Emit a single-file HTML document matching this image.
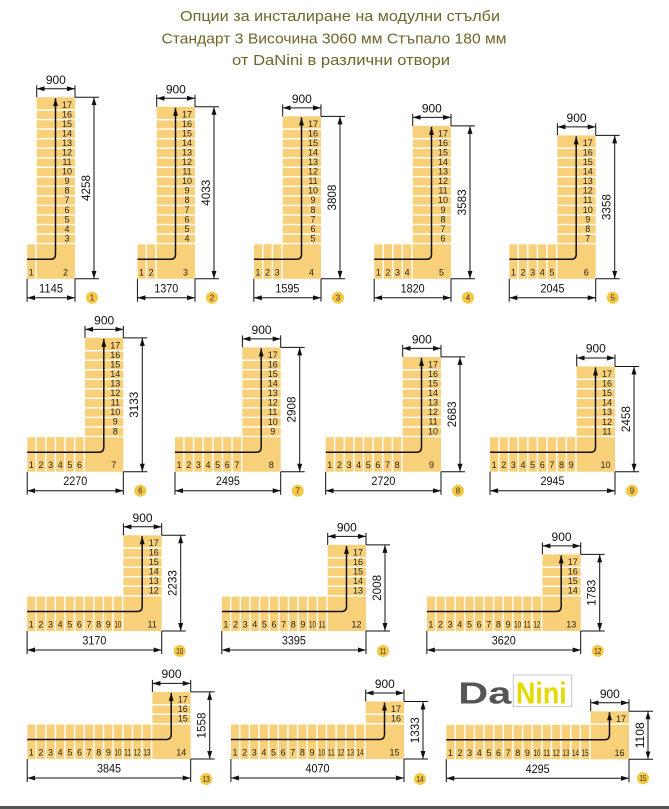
<!DOCTYPE html>
<html><head><meta charset="utf-8"><style>
html,body{margin:0;padding:0;background:#fff}
svg{display:block}
.n{font-family:"Liberation Sans Narrow","Liberation Sans",sans-serif;font-size:9px;fill:#2a2418;text-anchor:middle}
.d{font-family:"Liberation Sans Narrow","Liberation Sans",sans-serif;font-size:12px;fill:#111;text-anchor:middle}
.k{stroke:#111;stroke-width:1;fill:none}
.w{stroke:#111;stroke-width:1.5;fill:none}
.y{fill:#F8D07A}
.b{fill:#F5C744}
.bt{font-family:"Liberation Sans Narrow","Liberation Sans",sans-serif;font-size:8px;fill:#333;text-anchor:middle}
.ti{font-family:"Liberation Sans","Noto Sans CJK SC",sans-serif;font-size:15px;fill:#6c662a;text-anchor:middle}
</style></head><body>
<svg width="669" height="809" viewBox="0 0 669 809" xmlns="http://www.w3.org/2000/svg">
<defs>
<pattern id="ph" patternUnits="userSpaceOnUse" x="-38.3" y="0" width="9.63" height="100"><rect width="8.23" height="100" fill="#F8D07A"/></pattern>
<pattern id="pv" patternUnits="userSpaceOnUse" x="0" y="-34.5" width="100" height="9.54"><rect width="100" height="8.14" fill="#F8D07A"/></pattern>
<marker id="a" viewBox="0 0 8 5" refX="8" refY="2.5" markerWidth="8" markerHeight="5" markerUnits="userSpaceOnUse" orient="auto-start-reverse"><path d="M0,0 L8,2.5 L0,5 z" fill="#111"/></marker>
</defs>
<rect width="669" height="809" fill="#fff"/>
<text class="ti" x="340" y="21" textLength="320" lengthAdjust="spacingAndGlyphs">Опции за инсталиране на модулни стълби</text>
<text class="ti" x="334" y="43.5" textLength="345" lengthAdjust="spacingAndGlyphs">Стандарт 3 Височина 3060 мм Стъпало 180 мм</text>
<text class="ti" x="341" y="65" textLength="218" lengthAdjust="spacingAndGlyphs">от DaNini в различни отвори</text>

<!-- D1 -->
<g transform="translate(75,278.8)">
<rect x="-47.93" y="-34.5" width="9.63" height="34.5" fill="url(#ph)"/>
<rect class="y" x="-38.3" y="-34.5" width="38.3" height="34.5"/>
<rect x="-38.3" y="-168.06" width="38.3" height="133.56" fill="url(#pv)"/>
<rect class="y" x="-38.3" y="-181.56" width="38.3" height="12.1"/>
<path class="w" d="M-47.93 -19.5H-24.5Q-19.5 -19.5 -19.5 -24.5V-180.56" marker-end="url(#a)"/>
<g transform="translate(-47.93 0)"><text class="n" x="4.1" y="-3.5">1</text></g>
<text class="n" x="-9.5" y="-3.5">2</text>
<g transform="translate(0 -181.56)"><text class="n" x="-8" y="10.6">17</text><text class="n" x="-8" y="20.14">16</text><text class="n" x="-8" y="29.68">15</text><text class="n" x="-8" y="39.22">14</text><text class="n" x="-8" y="48.76">13</text><text class="n" x="-8" y="58.3">12</text><text class="n" x="-8" y="67.84">11</text><text class="n" x="-8" y="77.38">10</text><text class="n" x="-8" y="86.92">9</text><text class="n" x="-8" y="96.46">8</text><text class="n" x="-8" y="106">7</text><text class="n" x="-8" y="115.54">6</text><text class="n" x="-8" y="125.08">5</text><text class="n" x="-8" y="134.62">4</text><text class="n" x="-8" y="144.16">3</text></g>
<path class="k" d="M-38.3 -181.56V-193.56M0 -181.56V-193.56M0 -181.56H24M0 0H24M0 0V23M-47.93 0V23"/>
<line class="k" x1="-38.3" y1="-190.06" x2="0" y2="-190.06" marker-start="url(#a)" marker-end="url(#a)"/>
<line class="k" x1="19" y1="-181.56" x2="19" y2="0" marker-start="url(#a)" marker-end="url(#a)"/>
<line class="k" x1="-47.93" y1="19" x2="0" y2="19" marker-start="url(#a)" marker-end="url(#a)"/>
<text class="d" x="-19.15" y="-195.06" textLength="20" lengthAdjust="spacingAndGlyphs">900</text>
<text class="d" transform="translate(10.5 -90.78) rotate(-90)" y="4.3" textLength="26" lengthAdjust="spacingAndGlyphs">4258</text>
<text class="d" x="-23.97" y="13.5" textLength="24" lengthAdjust="spacingAndGlyphs">1145</text>
<circle class="b" cx="17" cy="19" r="6"/><text class="bt" x="17" y="21.9">1</text>
</g>

<!-- D2 -->
<g transform="translate(195,278.8)">
<rect x="-57.56" y="-34.5" width="19.26" height="34.5" fill="url(#ph)"/>
<rect class="y" x="-38.3" y="-34.5" width="38.3" height="34.5"/>
<rect x="-38.3" y="-158.52" width="38.3" height="124.02" fill="url(#pv)"/>
<rect class="y" x="-38.3" y="-172.02" width="38.3" height="12.1"/>
<path class="w" d="M-57.56 -19.5H-24.5Q-19.5 -19.5 -19.5 -24.5V-171.02" marker-end="url(#a)"/>
<g transform="translate(-57.56 0)"><text class="n" x="4.1" y="-3.5">1</text><text class="n" x="13.73" y="-3.5">2</text></g>
<text class="n" x="-9.5" y="-3.5">3</text>
<g transform="translate(0 -172.02)"><text class="n" x="-8" y="10.6">17</text><text class="n" x="-8" y="20.14">16</text><text class="n" x="-8" y="29.68">15</text><text class="n" x="-8" y="39.22">14</text><text class="n" x="-8" y="48.76">13</text><text class="n" x="-8" y="58.3">12</text><text class="n" x="-8" y="67.84">11</text><text class="n" x="-8" y="77.38">10</text><text class="n" x="-8" y="86.92">9</text><text class="n" x="-8" y="96.46">8</text><text class="n" x="-8" y="106">7</text><text class="n" x="-8" y="115.54">6</text><text class="n" x="-8" y="125.08">5</text><text class="n" x="-8" y="134.62">4</text></g>
<path class="k" d="M-38.3 -172.02V-184.02M0 -172.02V-184.02M0 -172.02H24M0 0H24M0 0V23M-57.56 0V23"/>
<line class="k" x1="-38.3" y1="-180.52" x2="0" y2="-180.52" marker-start="url(#a)" marker-end="url(#a)"/>
<line class="k" x1="19" y1="-172.02" x2="19" y2="0" marker-start="url(#a)" marker-end="url(#a)"/>
<line class="k" x1="-57.56" y1="19" x2="0" y2="19" marker-start="url(#a)" marker-end="url(#a)"/>
<text class="d" x="-19.15" y="-185.52" textLength="20" lengthAdjust="spacingAndGlyphs">900</text>
<text class="d" transform="translate(10.5 -86.01) rotate(-90)" y="4.3" textLength="26" lengthAdjust="spacingAndGlyphs">4033</text>
<text class="d" x="-28.78" y="13.5" textLength="24" lengthAdjust="spacingAndGlyphs">1370</text>
<circle class="b" cx="17" cy="19" r="6"/><text class="bt" x="17" y="21.9">2</text>
</g>

<!-- D3 -->
<g transform="translate(321,278.8)">
<rect x="-67.19" y="-34.5" width="28.89" height="34.5" fill="url(#ph)"/>
<rect class="y" x="-38.3" y="-34.5" width="38.3" height="34.5"/>
<rect x="-38.3" y="-148.98" width="38.3" height="114.48" fill="url(#pv)"/>
<rect class="y" x="-38.3" y="-162.48" width="38.3" height="12.1"/>
<path class="w" d="M-67.19 -19.5H-24.5Q-19.5 -19.5 -19.5 -24.5V-161.48" marker-end="url(#a)"/>
<g transform="translate(-67.19 0)"><text class="n" x="4.1" y="-3.5">1</text><text class="n" x="13.73" y="-3.5">2</text><text class="n" x="23.36" y="-3.5">3</text></g>
<text class="n" x="-9.5" y="-3.5">4</text>
<g transform="translate(0 -162.48)"><text class="n" x="-8" y="10.6">17</text><text class="n" x="-8" y="20.14">16</text><text class="n" x="-8" y="29.68">15</text><text class="n" x="-8" y="39.22">14</text><text class="n" x="-8" y="48.76">13</text><text class="n" x="-8" y="58.3">12</text><text class="n" x="-8" y="67.84">11</text><text class="n" x="-8" y="77.38">10</text><text class="n" x="-8" y="86.92">9</text><text class="n" x="-8" y="96.46">8</text><text class="n" x="-8" y="106">7</text><text class="n" x="-8" y="115.54">6</text><text class="n" x="-8" y="125.08">5</text></g>
<path class="k" d="M-38.3 -162.48V-174.48M0 -162.48V-174.48M0 -162.48H24M0 0H24M0 0V23M-67.19 0V23"/>
<line class="k" x1="-38.3" y1="-170.98" x2="0" y2="-170.98" marker-start="url(#a)" marker-end="url(#a)"/>
<line class="k" x1="19" y1="-162.48" x2="19" y2="0" marker-start="url(#a)" marker-end="url(#a)"/>
<line class="k" x1="-67.19" y1="19" x2="0" y2="19" marker-start="url(#a)" marker-end="url(#a)"/>
<text class="d" x="-19.15" y="-175.98" textLength="20" lengthAdjust="spacingAndGlyphs">900</text>
<text class="d" transform="translate(10.5 -81.24) rotate(-90)" y="4.3" textLength="26" lengthAdjust="spacingAndGlyphs">3808</text>
<text class="d" x="-33.6" y="13.5" textLength="24" lengthAdjust="spacingAndGlyphs">1595</text>
<circle class="b" cx="17" cy="19" r="6"/><text class="bt" x="17" y="21.9">3</text>
</g>

<!-- D4 -->
<g transform="translate(451,278.8)">
<rect x="-76.82" y="-34.5" width="38.52" height="34.5" fill="url(#ph)"/>
<rect class="y" x="-38.3" y="-34.5" width="38.3" height="34.5"/>
<rect x="-38.3" y="-139.44" width="38.3" height="104.94" fill="url(#pv)"/>
<rect class="y" x="-38.3" y="-152.94" width="38.3" height="12.1"/>
<path class="w" d="M-76.82 -19.5H-24.5Q-19.5 -19.5 -19.5 -24.5V-151.94" marker-end="url(#a)"/>
<g transform="translate(-76.82 0)"><text class="n" x="4.1" y="-3.5">1</text><text class="n" x="13.73" y="-3.5">2</text><text class="n" x="23.36" y="-3.5">3</text><text class="n" x="32.99" y="-3.5">4</text></g>
<text class="n" x="-9.5" y="-3.5">5</text>
<g transform="translate(0 -152.94)"><text class="n" x="-8" y="10.6">17</text><text class="n" x="-8" y="20.14">16</text><text class="n" x="-8" y="29.68">15</text><text class="n" x="-8" y="39.22">14</text><text class="n" x="-8" y="48.76">13</text><text class="n" x="-8" y="58.3">12</text><text class="n" x="-8" y="67.84">11</text><text class="n" x="-8" y="77.38">10</text><text class="n" x="-8" y="86.92">9</text><text class="n" x="-8" y="96.46">8</text><text class="n" x="-8" y="106">7</text><text class="n" x="-8" y="115.54">6</text></g>
<path class="k" d="M-38.3 -152.94V-164.94M0 -152.94V-164.94M0 -152.94H24M0 0H24M0 0V23M-76.82 0V23"/>
<line class="k" x1="-38.3" y1="-161.44" x2="0" y2="-161.44" marker-start="url(#a)" marker-end="url(#a)"/>
<line class="k" x1="19" y1="-152.94" x2="19" y2="0" marker-start="url(#a)" marker-end="url(#a)"/>
<line class="k" x1="-76.82" y1="19" x2="0" y2="19" marker-start="url(#a)" marker-end="url(#a)"/>
<text class="d" x="-19.15" y="-166.44" textLength="20" lengthAdjust="spacingAndGlyphs">900</text>
<text class="d" transform="translate(10.5 -76.47) rotate(-90)" y="4.3" textLength="26" lengthAdjust="spacingAndGlyphs">3583</text>
<text class="d" x="-38.41" y="13.5" textLength="24" lengthAdjust="spacingAndGlyphs">1820</text>
<circle class="b" cx="17" cy="19" r="6"/><text class="bt" x="17" y="21.9">4</text>
</g>

<!-- D5 -->
<g transform="translate(595.7,278.8)">
<rect x="-86.45" y="-34.5" width="48.15" height="34.5" fill="url(#ph)"/>
<rect class="y" x="-38.3" y="-34.5" width="38.3" height="34.5"/>
<rect x="-38.3" y="-129.9" width="38.3" height="95.4" fill="url(#pv)"/>
<rect class="y" x="-38.3" y="-143.4" width="38.3" height="12.1"/>
<path class="w" d="M-86.45 -19.5H-24.5Q-19.5 -19.5 -19.5 -24.5V-142.4" marker-end="url(#a)"/>
<g transform="translate(-86.45 0)"><text class="n" x="4.1" y="-3.5">1</text><text class="n" x="13.73" y="-3.5">2</text><text class="n" x="23.36" y="-3.5">3</text><text class="n" x="32.99" y="-3.5">4</text><text class="n" x="42.62" y="-3.5">5</text></g>
<text class="n" x="-9.5" y="-3.5">6</text>
<g transform="translate(0 -143.4)"><text class="n" x="-8" y="10.6">17</text><text class="n" x="-8" y="20.14">16</text><text class="n" x="-8" y="29.68">15</text><text class="n" x="-8" y="39.22">14</text><text class="n" x="-8" y="48.76">13</text><text class="n" x="-8" y="58.3">12</text><text class="n" x="-8" y="67.84">11</text><text class="n" x="-8" y="77.38">10</text><text class="n" x="-8" y="86.92">9</text><text class="n" x="-8" y="96.46">8</text><text class="n" x="-8" y="106">7</text></g>
<path class="k" d="M-38.3 -143.4V-155.4M0 -143.4V-155.4M0 -143.4H24M0 0H24M0 0V23M-86.45 0V23"/>
<line class="k" x1="-38.3" y1="-151.9" x2="0" y2="-151.9" marker-start="url(#a)" marker-end="url(#a)"/>
<line class="k" x1="19" y1="-143.4" x2="19" y2="0" marker-start="url(#a)" marker-end="url(#a)"/>
<line class="k" x1="-86.45" y1="19" x2="0" y2="19" marker-start="url(#a)" marker-end="url(#a)"/>
<text class="d" x="-19.15" y="-156.9" textLength="20" lengthAdjust="spacingAndGlyphs">900</text>
<text class="d" transform="translate(10.5 -71.7) rotate(-90)" y="4.3" textLength="26" lengthAdjust="spacingAndGlyphs">3358</text>
<text class="d" x="-43.23" y="13.5" textLength="24" lengthAdjust="spacingAndGlyphs">2045</text>
<circle class="b" cx="17" cy="19" r="6"/><text class="bt" x="17" y="21.9">5</text>
</g>

<!-- D6 -->
<g transform="translate(123.3,471.7)">
<rect x="-96.08" y="-34.5" width="57.78" height="34.5" fill="url(#ph)"/>
<rect class="y" x="-38.3" y="-34.5" width="38.3" height="34.5"/>
<rect x="-38.3" y="-120.36" width="38.3" height="85.86" fill="url(#pv)"/>
<rect class="y" x="-38.3" y="-133.86" width="38.3" height="12.1"/>
<path class="w" d="M-96.08 -19.5H-24.5Q-19.5 -19.5 -19.5 -24.5V-132.86" marker-end="url(#a)"/>
<g transform="translate(-96.08 0)"><text class="n" x="4.1" y="-3.5">1</text><text class="n" x="13.73" y="-3.5">2</text><text class="n" x="23.36" y="-3.5">3</text><text class="n" x="32.99" y="-3.5">4</text><text class="n" x="42.62" y="-3.5">5</text><text class="n" x="52.25" y="-3.5">6</text></g>
<text class="n" x="-9.5" y="-3.5">7</text>
<g transform="translate(0 -133.86)"><text class="n" x="-8" y="10.6">17</text><text class="n" x="-8" y="20.14">16</text><text class="n" x="-8" y="29.68">15</text><text class="n" x="-8" y="39.22">14</text><text class="n" x="-8" y="48.76">13</text><text class="n" x="-8" y="58.3">12</text><text class="n" x="-8" y="67.84">11</text><text class="n" x="-8" y="77.38">10</text><text class="n" x="-8" y="86.92">9</text><text class="n" x="-8" y="96.46">8</text></g>
<path class="k" d="M-38.3 -133.86V-145.86M0 -133.86V-145.86M0 -133.86H24M0 0H24M0 0V23M-96.08 0V23"/>
<line class="k" x1="-38.3" y1="-142.36" x2="0" y2="-142.36" marker-start="url(#a)" marker-end="url(#a)"/>
<line class="k" x1="19" y1="-133.86" x2="19" y2="0" marker-start="url(#a)" marker-end="url(#a)"/>
<line class="k" x1="-96.08" y1="19" x2="0" y2="19" marker-start="url(#a)" marker-end="url(#a)"/>
<text class="d" x="-19.15" y="-147.36" textLength="20" lengthAdjust="spacingAndGlyphs">900</text>
<text class="d" transform="translate(10.5 -66.93) rotate(-90)" y="4.3" textLength="26" lengthAdjust="spacingAndGlyphs">3133</text>
<text class="d" x="-48.04" y="13.5" textLength="24" lengthAdjust="spacingAndGlyphs">2270</text>
<circle class="b" cx="17" cy="19" r="6"/><text class="bt" x="17" y="21.9">6</text>
</g>

<!-- D7 -->
<g transform="translate(280.7,471.7)">
<rect x="-105.71" y="-34.5" width="67.41" height="34.5" fill="url(#ph)"/>
<rect class="y" x="-38.3" y="-34.5" width="38.3" height="34.5"/>
<rect x="-38.3" y="-110.82" width="38.3" height="76.32" fill="url(#pv)"/>
<rect class="y" x="-38.3" y="-124.32" width="38.3" height="12.1"/>
<path class="w" d="M-105.71 -19.5H-24.5Q-19.5 -19.5 -19.5 -24.5V-123.32" marker-end="url(#a)"/>
<g transform="translate(-105.71 0)"><text class="n" x="4.1" y="-3.5">1</text><text class="n" x="13.73" y="-3.5">2</text><text class="n" x="23.36" y="-3.5">3</text><text class="n" x="32.99" y="-3.5">4</text><text class="n" x="42.62" y="-3.5">5</text><text class="n" x="52.25" y="-3.5">6</text><text class="n" x="61.88" y="-3.5">7</text></g>
<text class="n" x="-9.5" y="-3.5">8</text>
<g transform="translate(0 -124.32)"><text class="n" x="-8" y="10.6">17</text><text class="n" x="-8" y="20.14">16</text><text class="n" x="-8" y="29.68">15</text><text class="n" x="-8" y="39.22">14</text><text class="n" x="-8" y="48.76">13</text><text class="n" x="-8" y="58.3">12</text><text class="n" x="-8" y="67.84">11</text><text class="n" x="-8" y="77.38">10</text><text class="n" x="-8" y="86.92">9</text></g>
<path class="k" d="M-38.3 -124.32V-136.32M0 -124.32V-136.32M0 -124.32H24M0 0H24M0 0V23M-105.71 0V23"/>
<line class="k" x1="-38.3" y1="-132.82" x2="0" y2="-132.82" marker-start="url(#a)" marker-end="url(#a)"/>
<line class="k" x1="19" y1="-124.32" x2="19" y2="0" marker-start="url(#a)" marker-end="url(#a)"/>
<line class="k" x1="-105.71" y1="19" x2="0" y2="19" marker-start="url(#a)" marker-end="url(#a)"/>
<text class="d" x="-19.15" y="-137.82" textLength="20" lengthAdjust="spacingAndGlyphs">900</text>
<text class="d" transform="translate(10.5 -62.16) rotate(-90)" y="4.3" textLength="26" lengthAdjust="spacingAndGlyphs">2908</text>
<text class="d" x="-52.86" y="13.5" textLength="24" lengthAdjust="spacingAndGlyphs">2495</text>
<circle class="b" cx="17" cy="19" r="6"/><text class="bt" x="17" y="21.9">7</text>
</g>

<!-- D8 -->
<g transform="translate(441,471.7)">
<rect x="-115.34" y="-34.5" width="77.04" height="34.5" fill="url(#ph)"/>
<rect class="y" x="-38.3" y="-34.5" width="38.3" height="34.5"/>
<rect x="-38.3" y="-101.28" width="38.3" height="66.78" fill="url(#pv)"/>
<rect class="y" x="-38.3" y="-114.78" width="38.3" height="12.1"/>
<path class="w" d="M-115.34 -19.5H-24.5Q-19.5 -19.5 -19.5 -24.5V-113.78" marker-end="url(#a)"/>
<g transform="translate(-115.34 0)"><text class="n" x="4.1" y="-3.5">1</text><text class="n" x="13.73" y="-3.5">2</text><text class="n" x="23.36" y="-3.5">3</text><text class="n" x="32.99" y="-3.5">4</text><text class="n" x="42.62" y="-3.5">5</text><text class="n" x="52.25" y="-3.5">6</text><text class="n" x="61.88" y="-3.5">7</text><text class="n" x="71.51" y="-3.5">8</text></g>
<text class="n" x="-9.5" y="-3.5">9</text>
<g transform="translate(0 -114.78)"><text class="n" x="-8" y="10.6">17</text><text class="n" x="-8" y="20.14">16</text><text class="n" x="-8" y="29.68">15</text><text class="n" x="-8" y="39.22">14</text><text class="n" x="-8" y="48.76">13</text><text class="n" x="-8" y="58.3">12</text><text class="n" x="-8" y="67.84">11</text><text class="n" x="-8" y="77.38">10</text></g>
<path class="k" d="M-38.3 -114.78V-126.78M0 -114.78V-126.78M0 -114.78H24M0 0H24M0 0V23M-115.34 0V23"/>
<line class="k" x1="-38.3" y1="-123.28" x2="0" y2="-123.28" marker-start="url(#a)" marker-end="url(#a)"/>
<line class="k" x1="19" y1="-114.78" x2="19" y2="0" marker-start="url(#a)" marker-end="url(#a)"/>
<line class="k" x1="-115.34" y1="19" x2="0" y2="19" marker-start="url(#a)" marker-end="url(#a)"/>
<text class="d" x="-19.15" y="-128.28" textLength="20" lengthAdjust="spacingAndGlyphs">900</text>
<text class="d" transform="translate(10.5 -57.39) rotate(-90)" y="4.3" textLength="26" lengthAdjust="spacingAndGlyphs">2683</text>
<text class="d" x="-57.67" y="13.5" textLength="24" lengthAdjust="spacingAndGlyphs">2720</text>
<circle class="b" cx="17" cy="19" r="6"/><text class="bt" x="17" y="21.9">8</text>
</g>

<!-- D9 -->
<g transform="translate(615,471.7)">
<rect x="-124.97" y="-34.5" width="86.67" height="34.5" fill="url(#ph)"/>
<rect class="y" x="-38.3" y="-34.5" width="38.3" height="34.5"/>
<rect x="-38.3" y="-91.74" width="38.3" height="57.24" fill="url(#pv)"/>
<rect class="y" x="-38.3" y="-105.24" width="38.3" height="12.1"/>
<path class="w" d="M-124.97 -19.5H-24.5Q-19.5 -19.5 -19.5 -24.5V-104.24" marker-end="url(#a)"/>
<g transform="translate(-124.97 0)"><text class="n" x="4.1" y="-3.5">1</text><text class="n" x="13.73" y="-3.5">2</text><text class="n" x="23.36" y="-3.5">3</text><text class="n" x="32.99" y="-3.5">4</text><text class="n" x="42.62" y="-3.5">5</text><text class="n" x="52.25" y="-3.5">6</text><text class="n" x="61.88" y="-3.5">7</text><text class="n" x="71.51" y="-3.5">8</text><text class="n" x="81.14" y="-3.5">9</text></g>
<text class="n" x="-9.5" y="-3.5">10</text>
<g transform="translate(0 -105.24)"><text class="n" x="-8" y="10.6">17</text><text class="n" x="-8" y="20.14">16</text><text class="n" x="-8" y="29.68">15</text><text class="n" x="-8" y="39.22">14</text><text class="n" x="-8" y="48.76">13</text><text class="n" x="-8" y="58.3">12</text><text class="n" x="-8" y="67.84">11</text></g>
<path class="k" d="M-38.3 -105.24V-117.24M0 -105.24V-117.24M0 -105.24H24M0 0H24M0 0V23M-124.97 0V23"/>
<line class="k" x1="-38.3" y1="-113.74" x2="0" y2="-113.74" marker-start="url(#a)" marker-end="url(#a)"/>
<line class="k" x1="19" y1="-105.24" x2="19" y2="0" marker-start="url(#a)" marker-end="url(#a)"/>
<line class="k" x1="-124.97" y1="19" x2="0" y2="19" marker-start="url(#a)" marker-end="url(#a)"/>
<text class="d" x="-19.15" y="-119.24" textLength="20" lengthAdjust="spacingAndGlyphs">900</text>
<text class="d" transform="translate(10.5 -52.62) rotate(-90)" y="4.3" textLength="26" lengthAdjust="spacingAndGlyphs">2458</text>
<text class="d" x="-62.49" y="13.5" textLength="24" lengthAdjust="spacingAndGlyphs">2945</text>
<circle class="b" cx="17" cy="19" r="6"/><text class="bt" x="17" y="21.9">9</text>
</g>

<!-- D10 -->
<g transform="translate(161.7,631)">
<rect x="-134.6" y="-34.5" width="96.3" height="34.5" fill="url(#ph)"/>
<rect class="y" x="-38.3" y="-34.5" width="38.3" height="34.5"/>
<rect x="-38.3" y="-82.2" width="38.3" height="47.7" fill="url(#pv)"/>
<rect class="y" x="-38.3" y="-95.7" width="38.3" height="12.1"/>
<path class="w" d="M-134.6 -19.5H-24.5Q-19.5 -19.5 -19.5 -24.5V-94.7" marker-end="url(#a)"/>
<g transform="translate(-134.6 0)"><text class="n" x="4.1" y="-3.5">1</text><text class="n" x="13.73" y="-3.5">2</text><text class="n" x="23.36" y="-3.5">3</text><text class="n" x="32.99" y="-3.5">4</text><text class="n" x="42.62" y="-3.5">5</text><text class="n" x="52.25" y="-3.5">6</text><text class="n" x="61.88" y="-3.5">7</text><text class="n" x="71.51" y="-3.5">8</text><text class="n" x="81.14" y="-3.5">9</text><text class="n" x="90.77" y="-3.5" textLength="7" lengthAdjust="spacingAndGlyphs">10</text></g>
<text class="n" x="-9.5" y="-3.5">11</text>
<g transform="translate(0 -95.7)"><text class="n" x="-8" y="10.6">17</text><text class="n" x="-8" y="20.14">16</text><text class="n" x="-8" y="29.68">15</text><text class="n" x="-8" y="39.22">14</text><text class="n" x="-8" y="48.76">13</text><text class="n" x="-8" y="58.3">12</text></g>
<path class="k" d="M-38.3 -95.7V-107.7M0 -95.7V-107.7M0 -95.7H24M0 0H24M0 0V23M-134.6 0V23"/>
<line class="k" x1="-38.3" y1="-104.2" x2="0" y2="-104.2" marker-start="url(#a)" marker-end="url(#a)"/>
<line class="k" x1="19" y1="-95.7" x2="19" y2="0" marker-start="url(#a)" marker-end="url(#a)"/>
<line class="k" x1="-134.6" y1="19" x2="0" y2="19" marker-start="url(#a)" marker-end="url(#a)"/>
<text class="d" x="-19.15" y="-109.2" textLength="20" lengthAdjust="spacingAndGlyphs">900</text>
<text class="d" transform="translate(10.5 -47.85) rotate(-90)" y="4.3" textLength="26" lengthAdjust="spacingAndGlyphs">2233</text>
<text class="d" x="-67.3" y="13.5" textLength="24" lengthAdjust="spacingAndGlyphs">3170</text>
<circle class="b" cx="18" cy="20" r="6"/><text class="bt" x="18" y="22.9" textLength="7" lengthAdjust="spacingAndGlyphs">10</text>
</g>

<!-- D11 -->
<g transform="translate(366,631)">
<rect x="-144.23" y="-34.5" width="105.93" height="34.5" fill="url(#ph)"/>
<rect class="y" x="-38.3" y="-34.5" width="38.3" height="34.5"/>
<rect x="-38.3" y="-72.66" width="38.3" height="38.16" fill="url(#pv)"/>
<rect class="y" x="-38.3" y="-86.16" width="38.3" height="12.1"/>
<path class="w" d="M-144.23 -19.5H-24.5Q-19.5 -19.5 -19.5 -24.5V-85.16" marker-end="url(#a)"/>
<g transform="translate(-144.23 0)"><text class="n" x="4.1" y="-3.5">1</text><text class="n" x="13.73" y="-3.5">2</text><text class="n" x="23.36" y="-3.5">3</text><text class="n" x="32.99" y="-3.5">4</text><text class="n" x="42.62" y="-3.5">5</text><text class="n" x="52.25" y="-3.5">6</text><text class="n" x="61.88" y="-3.5">7</text><text class="n" x="71.51" y="-3.5">8</text><text class="n" x="81.14" y="-3.5">9</text><text class="n" x="90.77" y="-3.5" textLength="7" lengthAdjust="spacingAndGlyphs">10</text><text class="n" x="100.4" y="-3.5" textLength="7" lengthAdjust="spacingAndGlyphs">11</text></g>
<text class="n" x="-9.5" y="-3.5">12</text>
<g transform="translate(0 -86.16)"><text class="n" x="-8" y="10.6">17</text><text class="n" x="-8" y="20.14">16</text><text class="n" x="-8" y="29.68">15</text><text class="n" x="-8" y="39.22">14</text><text class="n" x="-8" y="48.76">13</text></g>
<path class="k" d="M-38.3 -86.16V-98.16M0 -86.16V-98.16M0 -86.16H24M0 0H24M0 0V23M-144.23 0V23"/>
<line class="k" x1="-38.3" y1="-94.66" x2="0" y2="-94.66" marker-start="url(#a)" marker-end="url(#a)"/>
<line class="k" x1="19" y1="-86.16" x2="19" y2="0" marker-start="url(#a)" marker-end="url(#a)"/>
<line class="k" x1="-144.23" y1="19" x2="0" y2="19" marker-start="url(#a)" marker-end="url(#a)"/>
<text class="d" x="-19.15" y="-99.66" textLength="20" lengthAdjust="spacingAndGlyphs">900</text>
<text class="d" transform="translate(10.5 -43.08) rotate(-90)" y="4.3" textLength="26" lengthAdjust="spacingAndGlyphs">2008</text>
<text class="d" x="-72.12" y="13.5" textLength="24" lengthAdjust="spacingAndGlyphs">3395</text>
<circle class="b" cx="17" cy="20" r="6"/><text class="bt" x="17" y="22.9" textLength="6" lengthAdjust="spacingAndGlyphs">11</text>
</g>

<!-- D12 -->
<g transform="translate(580.7,631)">
<rect x="-153.86" y="-34.5" width="115.56" height="34.5" fill="url(#ph)"/>
<rect class="y" x="-38.3" y="-34.5" width="38.3" height="34.5"/>
<rect x="-38.3" y="-63.12" width="38.3" height="28.62" fill="url(#pv)"/>
<rect class="y" x="-38.3" y="-76.62" width="38.3" height="12.1"/>
<path class="w" d="M-153.86 -19.5H-24.5Q-19.5 -19.5 -19.5 -24.5V-75.62" marker-end="url(#a)"/>
<g transform="translate(-153.86 0)"><text class="n" x="4.1" y="-3.5">1</text><text class="n" x="13.73" y="-3.5">2</text><text class="n" x="23.36" y="-3.5">3</text><text class="n" x="32.99" y="-3.5">4</text><text class="n" x="42.62" y="-3.5">5</text><text class="n" x="52.25" y="-3.5">6</text><text class="n" x="61.88" y="-3.5">7</text><text class="n" x="71.51" y="-3.5">8</text><text class="n" x="81.14" y="-3.5">9</text><text class="n" x="90.77" y="-3.5" textLength="7" lengthAdjust="spacingAndGlyphs">10</text><text class="n" x="100.4" y="-3.5" textLength="7" lengthAdjust="spacingAndGlyphs">11</text><text class="n" x="110.03" y="-3.5" textLength="7" lengthAdjust="spacingAndGlyphs">12</text></g>
<text class="n" x="-9.5" y="-3.5">13</text>
<g transform="translate(0 -76.62)"><text class="n" x="-8" y="10.6">17</text><text class="n" x="-8" y="20.14">16</text><text class="n" x="-8" y="29.68">15</text><text class="n" x="-8" y="39.22">14</text></g>
<path class="k" d="M-38.3 -76.62V-88.62M0 -76.62V-88.62M0 -76.62H24M0 0H24M0 0V23M-153.86 0V23"/>
<line class="k" x1="-38.3" y1="-85.12" x2="0" y2="-85.12" marker-start="url(#a)" marker-end="url(#a)"/>
<line class="k" x1="19" y1="-76.62" x2="19" y2="0" marker-start="url(#a)" marker-end="url(#a)"/>
<line class="k" x1="-153.86" y1="19" x2="0" y2="19" marker-start="url(#a)" marker-end="url(#a)"/>
<text class="d" x="-19.15" y="-90.12" textLength="20" lengthAdjust="spacingAndGlyphs">900</text>
<text class="d" transform="translate(10.5 -38.31) rotate(-90)" y="4.3" textLength="26" lengthAdjust="spacingAndGlyphs">1783</text>
<text class="d" x="-76.93" y="13.5" textLength="24" lengthAdjust="spacingAndGlyphs">3620</text>
<circle class="b" cx="17" cy="20" r="6"/><text class="bt" x="17" y="22.9" textLength="7" lengthAdjust="spacingAndGlyphs">12</text>
</g>

<!-- D13 -->
<g transform="translate(190.7,759)">
<rect x="-163.49" y="-34.5" width="125.19" height="34.5" fill="url(#ph)"/>
<rect class="y" x="-38.3" y="-34.5" width="38.3" height="34.5"/>
<rect x="-38.3" y="-53.58" width="38.3" height="19.08" fill="url(#pv)"/>
<rect class="y" x="-38.3" y="-67.08" width="38.3" height="12.1"/>
<path class="w" d="M-163.49 -19.5H-24.5Q-19.5 -19.5 -19.5 -24.5V-66.08" marker-end="url(#a)"/>
<g transform="translate(-163.49 0)"><text class="n" x="4.1" y="-3.5">1</text><text class="n" x="13.73" y="-3.5">2</text><text class="n" x="23.36" y="-3.5">3</text><text class="n" x="32.99" y="-3.5">4</text><text class="n" x="42.62" y="-3.5">5</text><text class="n" x="52.25" y="-3.5">6</text><text class="n" x="61.88" y="-3.5">7</text><text class="n" x="71.51" y="-3.5">8</text><text class="n" x="81.14" y="-3.5">9</text><text class="n" x="90.77" y="-3.5" textLength="7" lengthAdjust="spacingAndGlyphs">10</text><text class="n" x="100.4" y="-3.5" textLength="7" lengthAdjust="spacingAndGlyphs">11</text><text class="n" x="110.03" y="-3.5" textLength="7" lengthAdjust="spacingAndGlyphs">12</text><text class="n" x="119.66" y="-3.5" textLength="7" lengthAdjust="spacingAndGlyphs">13</text></g>
<text class="n" x="-9.5" y="-3.5">14</text>
<g transform="translate(0 -67.08)"><text class="n" x="-8" y="10.6">17</text><text class="n" x="-8" y="20.14">16</text><text class="n" x="-8" y="29.68">15</text></g>
<path class="k" d="M-38.3 -67.08V-79.08M0 -67.08V-79.08M0 -67.08H24M0 0H24M0 0V23M-163.49 0V23"/>
<line class="k" x1="-38.3" y1="-75.58" x2="0" y2="-75.58" marker-start="url(#a)" marker-end="url(#a)"/>
<line class="k" x1="19" y1="-67.08" x2="19" y2="0" marker-start="url(#a)" marker-end="url(#a)"/>
<line class="k" x1="-163.49" y1="19" x2="0" y2="19" marker-start="url(#a)" marker-end="url(#a)"/>
<text class="d" x="-19.15" y="-81.08" textLength="20" lengthAdjust="spacingAndGlyphs">900</text>
<text class="d" transform="translate(10.5 -33.54) rotate(-90)" y="4.3" textLength="26" lengthAdjust="spacingAndGlyphs">1558</text>
<text class="d" x="-81.75" y="13.5" textLength="24" lengthAdjust="spacingAndGlyphs">3845</text>
<circle class="b" cx="15.5" cy="20" r="6"/><text class="bt" x="15.5" y="22.9" textLength="7" lengthAdjust="spacingAndGlyphs">13</text>
</g>

<!-- D14 -->
<g transform="translate(404,759)">
<rect x="-173.12" y="-34.5" width="134.82" height="34.5" fill="url(#ph)"/>
<rect class="y" x="-38.3" y="-34.5" width="38.3" height="34.5"/>
<rect x="-38.3" y="-44.04" width="38.3" height="9.54" fill="url(#pv)"/>
<rect class="y" x="-38.3" y="-57.54" width="38.3" height="12.1"/>
<path class="w" d="M-173.12 -19.5H-24.5Q-19.5 -19.5 -19.5 -24.5V-56.54" marker-end="url(#a)"/>
<g transform="translate(-173.12 0)"><text class="n" x="4.1" y="-3.5">1</text><text class="n" x="13.73" y="-3.5">2</text><text class="n" x="23.36" y="-3.5">3</text><text class="n" x="32.99" y="-3.5">4</text><text class="n" x="42.62" y="-3.5">5</text><text class="n" x="52.25" y="-3.5">6</text><text class="n" x="61.88" y="-3.5">7</text><text class="n" x="71.51" y="-3.5">8</text><text class="n" x="81.14" y="-3.5">9</text><text class="n" x="90.77" y="-3.5" textLength="7" lengthAdjust="spacingAndGlyphs">10</text><text class="n" x="100.4" y="-3.5" textLength="7" lengthAdjust="spacingAndGlyphs">11</text><text class="n" x="110.03" y="-3.5" textLength="7" lengthAdjust="spacingAndGlyphs">12</text><text class="n" x="119.66" y="-3.5" textLength="7" lengthAdjust="spacingAndGlyphs">13</text><text class="n" x="129.29" y="-3.5" textLength="7" lengthAdjust="spacingAndGlyphs">14</text></g>
<text class="n" x="-9.5" y="-3.5">15</text>
<g transform="translate(0 -57.54)"><text class="n" x="-8" y="10.6">17</text><text class="n" x="-8" y="20.14">16</text></g>
<path class="k" d="M-38.3 -57.54V-69.54M0 -57.54V-69.54M0 -57.54H24M0 0H24M0 0V23M-173.12 0V23"/>
<line class="k" x1="-38.3" y1="-66.04" x2="0" y2="-66.04" marker-start="url(#a)" marker-end="url(#a)"/>
<line class="k" x1="19" y1="-57.54" x2="19" y2="0" marker-start="url(#a)" marker-end="url(#a)"/>
<line class="k" x1="-173.12" y1="19" x2="0" y2="19" marker-start="url(#a)" marker-end="url(#a)"/>
<text class="d" x="-19.15" y="-71.04" textLength="20" lengthAdjust="spacingAndGlyphs">900</text>
<text class="d" transform="translate(10.5 -28.77) rotate(-90)" y="4.3" textLength="26" lengthAdjust="spacingAndGlyphs">1333</text>
<text class="d" x="-86.56" y="13.5" textLength="24" lengthAdjust="spacingAndGlyphs">4070</text>
<circle class="b" cx="16" cy="20" r="6"/><text class="bt" x="16" y="22.9" textLength="7" lengthAdjust="spacingAndGlyphs">14</text>
</g>

<!-- D15 -->
<g transform="translate(629,759.3)">
<rect x="-182.75" y="-34.5" width="144.45" height="34.5" fill="url(#ph)"/>
<rect class="y" x="-38.3" y="-34.5" width="38.3" height="34.5"/>
<rect class="y" x="-38.3" y="-48" width="38.3" height="12.1"/>
<path class="w" d="M-182.75 -19.5H-24.5Q-19.5 -19.5 -19.5 -24.5V-47" marker-end="url(#a)"/>
<g transform="translate(-182.75 0)"><text class="n" x="4.1" y="-3.5">1</text><text class="n" x="13.73" y="-3.5">2</text><text class="n" x="23.36" y="-3.5">3</text><text class="n" x="32.99" y="-3.5">4</text><text class="n" x="42.62" y="-3.5">5</text><text class="n" x="52.25" y="-3.5">6</text><text class="n" x="61.88" y="-3.5">7</text><text class="n" x="71.51" y="-3.5">8</text><text class="n" x="81.14" y="-3.5">9</text><text class="n" x="90.77" y="-3.5" textLength="7" lengthAdjust="spacingAndGlyphs">10</text><text class="n" x="100.4" y="-3.5" textLength="7" lengthAdjust="spacingAndGlyphs">11</text><text class="n" x="110.03" y="-3.5" textLength="7" lengthAdjust="spacingAndGlyphs">12</text><text class="n" x="119.66" y="-3.5" textLength="7" lengthAdjust="spacingAndGlyphs">13</text><text class="n" x="129.29" y="-3.5" textLength="7" lengthAdjust="spacingAndGlyphs">14</text><text class="n" x="138.92" y="-3.5" textLength="7" lengthAdjust="spacingAndGlyphs">15</text></g>
<text class="n" x="-9.5" y="-3.5">16</text>
<g transform="translate(0 -48)"><text class="n" x="-8" y="10.6">17</text></g>
<path class="k" d="M-38.3 -48V-60M0 -48V-60M0 -48H24M0 0H24M0 0V23M-182.75 0V23"/>
<line class="k" x1="-38.3" y1="-56.5" x2="0" y2="-56.5" marker-start="url(#a)" marker-end="url(#a)"/>
<line class="k" x1="19" y1="-48" x2="19" y2="0" marker-start="url(#a)" marker-end="url(#a)"/>
<line class="k" x1="-182.75" y1="19" x2="0" y2="19" marker-start="url(#a)" marker-end="url(#a)"/>
<text class="d" x="-19.15" y="-61.5" textLength="20" lengthAdjust="spacingAndGlyphs">900</text>
<text class="d" transform="translate(10.5 -24) rotate(-90)" y="4.3" textLength="26" lengthAdjust="spacingAndGlyphs">1108</text>
<text class="d" x="-91.38" y="13.5" textLength="24" lengthAdjust="spacingAndGlyphs">4295</text>
<circle class="b" cx="14" cy="19" r="6"/><text class="bt" x="14" y="21.9" textLength="7" lengthAdjust="spacingAndGlyphs">15</text>
</g>

<!-- Logo -->
<rect x="513.3" y="675" width="58.4" height="31.7" fill="none" stroke="#c8c8c8" stroke-width="1"/>
<text x="458.3" y="703.3" font-family="Liberation Sans, sans-serif" font-weight="bold" font-size="31" fill="#555" textLength="53" lengthAdjust="spacingAndGlyphs">Da</text>
<text x="516" y="703.3" font-family="Liberation Sans, sans-serif" font-weight="bold" font-size="31" fill="#E4D900" textLength="50.7" lengthAdjust="spacingAndGlyphs">Nini</text>

<rect x="0" y="806" width="669" height="3" fill="#555"/>
</svg>
</body></html>
